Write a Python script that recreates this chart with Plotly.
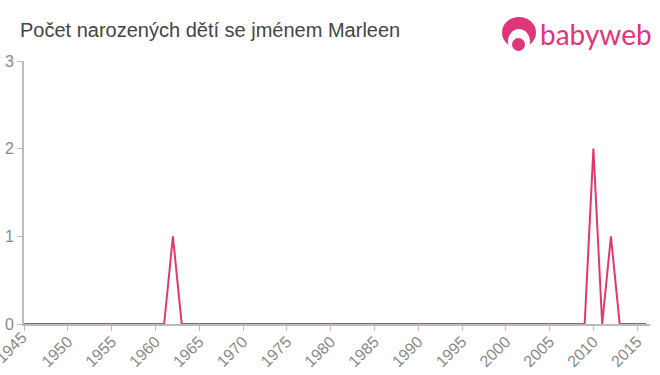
import plotly.graph_objects as go

years = list(range(1945, 2017))
counts = [0, 0, 0, 0, 0, 0, 0, 0, 0, 0, 0, 0, 0, 0, 0, 0, 0, 1,
          0, 0, 0, 0, 0, 0, 0, 0, 0, 0, 0, 0, 0, 0, 0, 0, 0, 0,
          0, 0, 0, 0, 0, 0, 0, 0, 0, 0, 0, 0, 0, 0, 0, 0, 0, 0,
          0, 0, 0, 0, 0, 0, 0, 0, 0, 0, 0, 2, 0, 1, 0, 0, 0, 0]
x_ticks = list(range(1945, 2020, 5))
y_ticks = [0, 1, 2, 3]
title = "Počet narozených dětí se jménem Marleen"
W, H = 660, 375
L, R, T, B = 24, 10, 61, 51
PINK = "#e0357a"
FONT = "Liberation Sans, Arial, sans-serif"


def px(x):
    return (x - L) / (W - L - R)


def py(y):
    return (H - B - y) / (H - T - B)


def disc(x0, x1, y0, y1, color):
    return dict(type="circle", xref="paper", yref="paper", x0=px(x0), x1=px(x1), y0=py(y1), y1=py(y0),
                fillcolor=color, line_width=0, layer="above")


fig = go.Figure(go.Scatter(x=years, y=counts, mode="lines",
                           line=dict(color="#e0396f", width=2),
                           cliponaxis=False, hoverinfo="skip"))
fig.update_layout(
    width=W, height=H, autosize=False,
    margin=dict(l=L, r=R, t=T, b=B, pad=0),
    paper_bgcolor="white", plot_bgcolor="white",
    showlegend=False,
    font=dict(family=FONT),
    shapes=[
        disc(502, 536, 17, 48, PINK),
        disc(508, 530, 29, 54, "white"),
        disc(512, 525, 38, 51, PINK),
    ],
    annotations=[
        dict(text=title, xref="paper", yref="paper", x=px(18), y=py(30), xanchor="left", yanchor="middle",
             showarrow=False, font=dict(size=20, color="#444444", family=FONT)),
        dict(text="babyweb", xref="paper", yref="paper", x=px(538), y=py(34), xanchor="left", yanchor="middle",
             showarrow=False, font=dict(size=28, color=PINK, family="Lato, sans-serif")),
        dict(text=str(x_ticks[0]), x=x_ticks[0], xref="x", yref="paper", y=py(347), yanchor="middle", xanchor="center",
             xshift=-13, textangle=-45, showarrow=False, font=dict(size=16, color="#888888", family=FONT)),
    ],
)
fig.update_xaxes(range=[1945, 2016.46], tickvals=x_ticks, ticktext=[str(v) for v in x_ticks],
                 tickangle=-45, ticks="outside", ticklen=5, tickwidth=1, tickcolor="#bbbbbb",
                 showline=True, linecolor="#bbbbbb", linewidth=2, showgrid=False, zeroline=False,
                 automargin=False, ticklabelstandoff=-5, layer="below traces",
                 tickfont=dict(size=16, color="#888888"))
fig.update_yaxes(range=[0, 3], tickvals=y_ticks, ticks="outside", ticklen=5, tickwidth=1, tickcolor="#bbbbbb",
                 showline=True, linecolor="#bbbbbb", linewidth=2, showgrid=False, zeroline=False,
                 automargin=False, layer="below traces",
                 tickfont=dict(size=16, color="#888888"))
fig.write_html("out.html", config={"displayModeBar": False},
               post_script="document.body.style.margin='0';document.documentElement.style.overflow='hidden';")
